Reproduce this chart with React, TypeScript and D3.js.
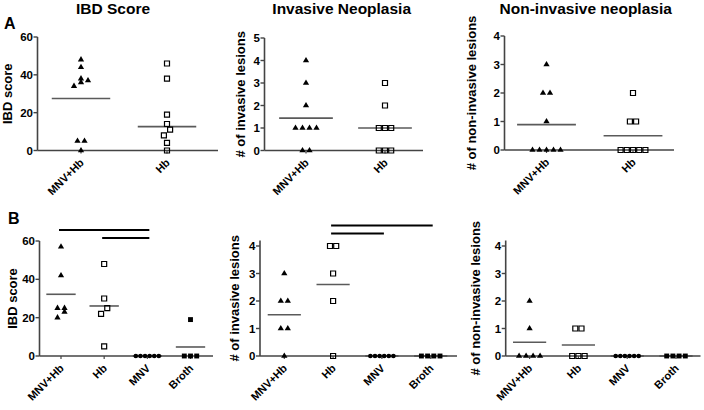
import React from "react";
import * as d3 from "d3";

// ---------- data ----------
const groupsA = ["MNV+Hb", "Hb"];
const groupsB = ["MNV+Hb", "Hb", "MNV", "Broth"];

const ibdA_mnvHb = [48, 44, 38, 37, 36, 34, 5, 5, 0];
const ibdA_hb = [46, 38, 19, 14, 11, 8, 4, 0];
const ibdA_lines = [27.5, 12.6];

const invA_mnvHb = [4, 3, 2, 1, 1, 1, 1, 0, 0];
const invA_hb = [3, 2, 1, 1, 1, 0, 0, 0];
const invA_lines = [1.44, 1.0];

const nonA_mnvHb = [3, 2, 2, 1, 0, 0, 0, 0, 0];
const nonA_hb = [2, 1, 1, 0, 0, 0, 0, 0];
const nonA_lines = [0.89, 0.5];

const ibdB_mnvHb = [57, 42, 25, 25, 23, 20];
const ibdB_hb = [48, 30, 25, 22, 5];
const ibdB_mnv = [0, 0, 0, 0, 0, 0];
const ibdB_broth = [19, 0, 0, 0];
const ibdB_lines = [32.2, 26.1, 0, 4.7];

const invB_mnvHb = [3, 2, 2, 1, 1, 0];
const invB_hb = [4, 4, 3, 2, 0];
const invB_mnv = [0, 0, 0, 0, 0, 0];
const invB_broth = [0, 0, 0, 0];
const invB_lines = [1.5, 2.6, 0, 0];

const nonB_mnvHb = [2, 1, 0, 0, 0, 0];
const nonB_hb = [1, 1, 0, 0, 0];
const nonB_mnv = [0, 0, 0, 0, 0, 0];
const nonB_broth = [0, 0, 0, 0];
const nonB_lines = [0.5, 0.4, 0, 0];

const ticksIBD = [0, 20, 40, 60];
const ticksInvA = [0, 1, 2, 3, 4, 5];
const ticksCount = [0, 1, 2, 3, 4];

const sigIBD_B = [["MNV+Hb", "MNV"], ["Hb", "MNV"]];
const sigInv_B = [["Hb", "Broth"], ["Hb", "MNV"]];

const titles = ["IBD Score", "Invasive Neoplasia", "Non-invasive neoplasia"];
const yLabels = ["IBD score", "# of invasive lesions", "# of non-invasive lesions"];

// ---------- styling / layout ----------
type Marker = "triangle" | "openSquare" | "circle" | "square";
const markerOrder: Marker[] = ["triangle", "openSquare", "circle", "square"];
const markerSpacing: Record<Marker, number> = { triangle: 7, openSquare: 6.2, circle: 4.6, square: 6.2 };
const FONT = "'Liberation Sans', Arial, Helvetica, sans-serif";
const AXIS_COLOR = "#444";
const MEAN_COLOR = "#5a5a5a";

interface Panel {
  groups: string[];
  series: number[][];
  lines: number[];
  ticks: number[];
  axisMax: number;
  left: number; right: number; top: number; bottom: number;
  firstX: number; lastX: number;
  yLabel: string; labelX: number;
  title?: string; titleX?: number;
  sig: string[][]; sigOffsets: number[];
}

const panels: Panel[] = [
  { groups: groupsA, series: [ibdA_mnvHb, ibdA_hb], lines: ibdA_lines, ticks: ticksIBD, axisMax: 60,
    left: 37.5, right: 218, top: 37, bottom: 150.5, firstX: 81, lastX: 167,
    yLabel: yLabels[0], labelX: 12, title: titles[0], titleX: 113, sig: [], sigOffsets: [] },
  { groups: groupsA, series: [invA_mnvHb, invA_hb], lines: invA_lines, ticks: ticksInvA, axisMax: 5,
    left: 264.5, right: 423, top: 38, bottom: 150.5, firstX: 306, lastX: 385,
    yLabel: yLabels[1], labelX: 245, title: titles[1], titleX: 341.7, sig: [], sigOffsets: [] },
  { groups: groupsA, series: [nonA_mnvHb, nonA_hb], lines: nonA_lines, ticks: ticksCount, axisMax: 4,
    left: 504.5, right: 674, top: 36, bottom: 150, firstX: 546.5, lastX: 633,
    yLabel: yLabels[2], labelX: 476, title: titles[2], titleX: 585.7, sig: [], sigOffsets: [] },
  { groups: groupsB, series: [ibdB_mnvHb, ibdB_hb, ibdB_mnv, ibdB_broth], lines: ibdB_lines, ticks: ticksIBD, axisMax: 60,
    left: 39.5, right: 213, top: 241, bottom: 356, firstX: 61, lastX: 190.5,
    yLabel: yLabels[0], labelX: 17, sig: sigIBD_B, sigOffsets: [-11, -3] },
  { groups: groupsB, series: [invB_mnvHb, invB_hb, invB_mnv, invB_broth], lines: invB_lines, ticks: ticksCount, axisMax: 4.2,
    left: 260, right: 457, top: 240.5, bottom: 356, firstX: 284.3, lastX: 430.7,
    yLabel: yLabels[1], labelX: 238.5, sig: sigInv_B, sigOffsets: [-15, -7] },
  { groups: groupsB, series: [nonB_mnvHb, nonB_hb, nonB_mnv, nonB_broth], lines: nonB_lines, ticks: ticksCount, axisMax: 4.2,
    left: 505.7, right: 700.5, top: 240.5, bottom: 356, firstX: 529.6, lastX: 676,
    yLabel: yLabels[2], labelX: 480, sig: [], sigOffsets: [] },
];

function layoutPoints(values: number[], y: (v: number) => number, spacing: number, thr = 6) {
  const sorted = [...values].sort((a, b) => a - b);
  const rows: number[][] = [];
  for (const v of sorted) {
    const last = rows[rows.length - 1];
    if (last && Math.abs(y(v) - y(last[0])) < thr) last.push(v);
    else rows.push([v]);
  }
  return rows.flatMap((row) => row.map((v, i) => ({ v, dx: (i - (row.length - 1) / 2) * spacing })));
}

const symTri = d3.symbol().type(d3.symbolTriangle).size(17)()!;
const symSq = d3.symbol().type(d3.symbolSquare).size(25)()!;
const symCirc = d3.symbol().type(d3.symbolCircle).size(17)()!;
const symFSq = d3.symbol().type(d3.symbolSquare).size(24)()!;

function MarkerShape({ m, x, y }: { m: Marker; x: number; y: number }) {
  const t = `translate(${x},${y})`;
  if (m === "triangle") return <path d={symTri} transform={t} fill="#000" />;
  if (m === "openSquare") return <path d={symSq} transform={t} fill="none" stroke="#000" strokeWidth={1.2} />;
  if (m === "circle") return <path d={symCirc} transform={t} fill="#000" />;
  return <path d={symFSq} transform={t} fill="#000" />;
}

function PanelView({ p }: { p: Panel }) {
  const y = d3.scaleLinear().domain([0, p.axisMax]).range([p.bottom, p.top]);
  const x = d3.scalePoint<string>().domain(p.groups).range([p.firstX, p.lastX]);
  const step = (p.lastX - p.firstX) / (p.groups.length - 1);
  const half = step * 0.34;
  const midY = (p.top + p.bottom) / 2;
  return (
    <g>
      {p.title && (
        <text x={p.titleX} y={14} textAnchor="middle" fontSize={15.5} fontWeight="bold" fontFamily={FONT}>
          {p.title}
        </text>
      )}
      {/* mean lines */}
      {p.lines.map((v, i) => (
        <line key={"m" + i} x1={x(p.groups[i])! - half} x2={x(p.groups[i])! + half} y1={y(v)} y2={y(v)}
          stroke={MEAN_COLOR} strokeWidth={1.6} />
      ))}
      {/* axes */}
      <line x1={p.left} x2={p.left} y1={y(p.axisMax)} y2={p.bottom} stroke={AXIS_COLOR} strokeWidth={1.6} />
      <line x1={p.left} x2={p.right} y1={p.bottom} y2={p.bottom} stroke={AXIS_COLOR} strokeWidth={1.6} />
      {p.ticks.map((t) => (
        <g key={"t" + t}>
          <line x1={p.left - 4} x2={p.left} y1={y(t)} y2={y(t)} stroke={AXIS_COLOR} strokeWidth={1.4} />
          <text x={p.left - 4.5} y={y(t)} dy="0.36em" textAnchor="end" fontSize={11.5} fontWeight="bold" fontFamily={FONT}>
            {t}
          </text>
        </g>
      ))}
      {p.groups.map((g) => (
        <g key={"x" + g}>
          <line x1={x(g)} x2={x(g)} y1={p.bottom} y2={p.bottom + 3} stroke={AXIS_COLOR} strokeWidth={1.2} />
          <text transform={`translate(${x(g)! + 3.5},${p.bottom + 13}) rotate(-45)`} textAnchor="end"
            fontSize={11} fontWeight="bold" fontFamily={FONT}>
            {g}
          </text>
        </g>
      ))}
      <text transform={`translate(${p.labelX},${midY}) rotate(-90)`} textAnchor="middle" fontSize={13}
        fontWeight="bold" fontFamily={FONT}>
        {p.yLabel}
      </text>
      {/* points */}
      {p.series.map((vals, gi) => {
        const m = markerOrder[gi];
        const pts = layoutPoints(vals, (v) => y(v), markerSpacing[m]);
        return pts.map((pt, k) => <MarkerShape key={gi + "-" + k} m={m} x={x(p.groups[gi])! + pt.dx} y={y(pt.v)} />);
      })}
      {/* significance bars */}
      {p.sig.map((s, i) => {
        const yy = y(p.axisMax) + p.sigOffsets[i];
        return <line key={"s" + i} x1={x(s[0])! - 2} x2={x(s[1])! + 2} y1={yy} y2={yy} stroke="#000" strokeWidth={2} />;
      })}
    </g>
  );
}

export default function App() {
  return (
    <svg width={704} height={410} style={{ position: "absolute", left: 0, top: 0, background: "#fff" }}>
      <rect width={704} height={410} fill="#fff" />
      <text x={4} y={29} fontSize={16} fontWeight="bold" fontFamily={FONT}>A</text>
      <text x={8} y={224} fontSize={16} fontWeight="bold" fontFamily={FONT}>B</text>
      {panels.map((p, i) => <PanelView key={i} p={p} />)}
    </svg>
  );
}
